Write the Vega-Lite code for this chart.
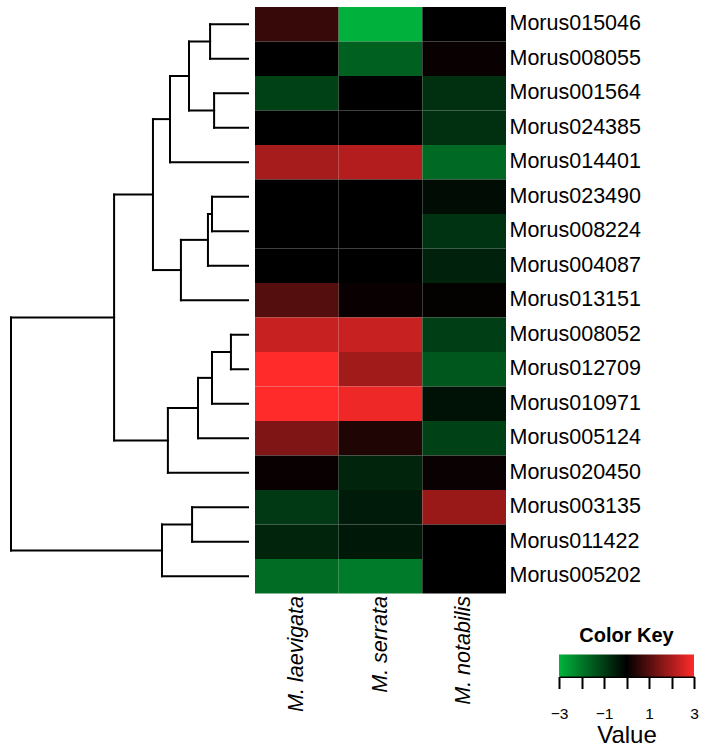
{
  "$schema": "https://vega.github.io/schema/vega-lite/v6.json",
  "padding": {"left": 9, "top": 7, "right": 0, "bottom": 0},
  "background": "white",
  "config": {"view": {"stroke": null}, "font": "Liberation Sans"},
  "datasets": {
    "segments": [
      {"h1":1.60,"h2":1.60,"y1":0,"y2":1},
      {"h1":1.43,"h2":1.43,"y1":2,"y2":3},
      {"h1":2.49,"h2":2.49,"y1":0.5,"y2":2.5},
      {"h1":3.29,"h2":3.29,"y1":1.5,"y2":4},
      {"h1":1.52,"h2":1.52,"y1":5,"y2":6},
      {"h1":1.69,"h2":1.69,"y1":5.5,"y2":7},
      {"h1":2.83,"h2":2.83,"y1":6.25,"y2":8},
      {"h1":4.01,"h2":4.01,"y1":2.75,"y2":7.125},
      {"h1":0.72,"h2":0.72,"y1":9,"y2":10},
      {"h1":1.52,"h2":1.52,"y1":9.5,"y2":11},
      {"h1":2.11,"h2":2.11,"y1":10.25,"y2":12},
      {"h1":3.38,"h2":3.38,"y1":11.125,"y2":13},
      {"h1":5.65,"h2":5.65,"y1":4.9375,"y2":12.0625},
      {"h1":2.36,"h2":2.36,"y1":14,"y2":15},
      {"h1":3.63,"h2":3.63,"y1":14.5,"y2":16},
      {"h1":10,"h2":10,"y1":8.5,"y2":15.25},
      {"h1":1.60,"h2":0,"y1":0,"y2":0},
      {"h1":1.60,"h2":0,"y1":1,"y2":1},
      {"h1":1.43,"h2":0,"y1":2,"y2":2},
      {"h1":1.43,"h2":0,"y1":3,"y2":3},
      {"h1":2.49,"h2":1.60,"y1":0.5,"y2":0.5},
      {"h1":2.49,"h2":1.43,"y1":2.5,"y2":2.5},
      {"h1":3.29,"h2":2.49,"y1":1.5,"y2":1.5},
      {"h1":3.29,"h2":0,"y1":4,"y2":4},
      {"h1":1.52,"h2":0,"y1":5,"y2":5},
      {"h1":1.52,"h2":0,"y1":6,"y2":6},
      {"h1":1.69,"h2":1.52,"y1":5.5,"y2":5.5},
      {"h1":1.69,"h2":0,"y1":7,"y2":7},
      {"h1":2.83,"h2":1.69,"y1":6.25,"y2":6.25},
      {"h1":2.83,"h2":0,"y1":8,"y2":8},
      {"h1":4.01,"h2":3.29,"y1":2.75,"y2":2.75},
      {"h1":4.01,"h2":2.83,"y1":7.125,"y2":7.125},
      {"h1":0.72,"h2":0,"y1":9,"y2":9},
      {"h1":0.72,"h2":0,"y1":10,"y2":10},
      {"h1":1.52,"h2":0.72,"y1":9.5,"y2":9.5},
      {"h1":1.52,"h2":0,"y1":11,"y2":11},
      {"h1":2.11,"h2":1.52,"y1":10.25,"y2":10.25},
      {"h1":2.11,"h2":0,"y1":12,"y2":12},
      {"h1":3.38,"h2":2.11,"y1":11.125,"y2":11.125},
      {"h1":3.38,"h2":0,"y1":13,"y2":13},
      {"h1":5.65,"h2":4.01,"y1":4.9375,"y2":4.9375},
      {"h1":5.65,"h2":3.38,"y1":12.0625,"y2":12.0625},
      {"h1":2.36,"h2":0,"y1":14,"y2":14},
      {"h1":2.36,"h2":0,"y1":15,"y2":15},
      {"h1":3.63,"h2":2.36,"y1":14.5,"y2":14.5},
      {"h1":3.63,"h2":0,"y1":16,"y2":16},
      {"h1":10,"h2":5.65,"y1":8.5,"y2":8.5},
      {"h1":10,"h2":3.63,"y1":15.25,"y2":15.25}
    ],
    "cells": [
      {"gene":"Morus015046","species":"M. laevigata","value":0.65},
      {"gene":"Morus015046","species":"M. serrata","value":-2.95},
      {"gene":"Morus015046","species":"M. notabilis","value":0.0},
      {"gene":"Morus008055","species":"M. laevigata","value":0.0},
      {"gene":"Morus008055","species":"M. serrata","value":-1.6},
      {"gene":"Morus008055","species":"M. notabilis","value":0.1},
      {"gene":"Morus001564","species":"M. laevigata","value":-1.1},
      {"gene":"Morus001564","species":"M. serrata","value":0.0},
      {"gene":"Morus001564","species":"M. notabilis","value":-0.8},
      {"gene":"Morus024385","species":"M. laevigata","value":0.0},
      {"gene":"Morus024385","species":"M. serrata","value":0.0},
      {"gene":"Morus024385","species":"M. notabilis","value":-0.8},
      {"gene":"Morus014401","species":"M. laevigata","value":1.95},
      {"gene":"Morus014401","species":"M. serrata","value":2.1},
      {"gene":"Morus014401","species":"M. notabilis","value":-1.75},
      {"gene":"Morus023490","species":"M. laevigata","value":0.0},
      {"gene":"Morus023490","species":"M. serrata","value":0.0},
      {"gene":"Morus023490","species":"M. notabilis","value":-0.2},
      {"gene":"Morus008224","species":"M. laevigata","value":0.0},
      {"gene":"Morus008224","species":"M. serrata","value":0.0},
      {"gene":"Morus008224","species":"M. notabilis","value":-0.85},
      {"gene":"Morus004087","species":"M. laevigata","value":0.0},
      {"gene":"Morus004087","species":"M. serrata","value":0.0},
      {"gene":"Morus004087","species":"M. notabilis","value":-0.55},
      {"gene":"Morus013151","species":"M. laevigata","value":1.0},
      {"gene":"Morus013151","species":"M. serrata","value":0.1},
      {"gene":"Morus013151","species":"M. notabilis","value":0.05},
      {"gene":"Morus008052","species":"M. laevigata","value":2.35},
      {"gene":"Morus008052","species":"M. serrata","value":2.35},
      {"gene":"Morus008052","species":"M. notabilis","value":-1.05},
      {"gene":"Morus012709","species":"M. laevigata","value":3.0},
      {"gene":"Morus012709","species":"M. serrata","value":1.9},
      {"gene":"Morus012709","species":"M. notabilis","value":-1.45},
      {"gene":"Morus010971","species":"M. laevigata","value":3.0},
      {"gene":"Morus010971","species":"M. serrata","value":2.8},
      {"gene":"Morus010971","species":"M. notabilis","value":-0.3},
      {"gene":"Morus005124","species":"M. laevigata","value":1.5},
      {"gene":"Morus005124","species":"M. serrata","value":0.38},
      {"gene":"Morus005124","species":"M. notabilis","value":-1.1},
      {"gene":"Morus020450","species":"M. laevigata","value":0.1},
      {"gene":"Morus020450","species":"M. serrata","value":-0.6},
      {"gene":"Morus020450","species":"M. notabilis","value":0.12},
      {"gene":"Morus003135","species":"M. laevigata","value":-0.95},
      {"gene":"Morus003135","species":"M. serrata","value":-0.45},
      {"gene":"Morus003135","species":"M. notabilis","value":1.8},
      {"gene":"Morus011422","species":"M. laevigata","value":-0.6},
      {"gene":"Morus011422","species":"M. serrata","value":-0.4},
      {"gene":"Morus011422","species":"M. notabilis","value":0.0},
      {"gene":"Morus005202","species":"M. laevigata","value":-1.8},
      {"gene":"Morus005202","species":"M. serrata","value":-2.05},
      {"gene":"Morus005202","species":"M. notabilis","value":0.0}
    ]
  },
  "bounds": "flush",
  "columns": 3,
  "spacing": {"row": 60.5, "column": 7},
  "concat": [
    {
      "width": 237,
      "height": 586.5,
      "data": {"name": "segments"},
      "mark": {"type": "rule", "strokeWidth": 2, "color": "black", "strokeCap": "square"},
      "encoding": {
        "x": {"field": "h1", "type": "quantitative", "scale": {"domain": [0, 10], "reverse": true, "nice": false, "zero": false}, "axis": null},
        "x2": {"field": "h2"},
        "y": {"field": "y1", "type": "quantitative", "scale": {"domain": [-0.5, 16.5], "reverse": true, "nice": false, "zero": false}, "axis": null},
        "y2": {"field": "y2"}
      }
    },
    {
      "width": 251,
      "height": 586.5,
      "data": {"name": "cells"},
      "mark": {"type": "rect"},
      "encoding": {
        "x": {"field": "species", "type": "nominal", "sort": null, "scale": {"paddingInner": 0, "paddingOuter": 0},
          "axis": {"title": null, "orient": "bottom", "labelAngle": -90, "labelFontStyle": "italic", "labelFontSize": 21.5, "ticks": false, "domain": false, "labelPadding": 2, "labelColor": "black", "labelOverlap": false, "labelFont": "Liberation Sans"}},
        "y": {"field": "gene", "type": "nominal", "sort": null, "scale": {"paddingInner": 0, "paddingOuter": 0},
          "axis": {"title": null, "orient": "right", "labelFontSize": 21.5, "ticks": false, "domain": false, "labelPadding": 3, "labelColor": "black", "labelOverlap": false, "labelFont": "Liberation Sans"}},
        "color": {"field": "value", "type": "quantitative", "scale": {"domain": [-3, 0, 3], "range": ["#00b43c", "#000000", "#ff2a2a"], "interpolate": "rgb"}, "legend": null}
      }
    },
    {
      "width": 135,
      "height": 10,
      "data": {"values": []},
      "mark": "point"
    },
    {
      "width": 237,
      "height": 22,
      "data": {"values": []},
      "mark": "point"
    },
    {
      "width": 297,
      "height": 22,
      "data": {"values": []},
      "mark": "point"
    },
    {
      "width": 135,
      "height": 22,
      "data": {"values": [{"lo": -3, "hi": 3}]},
      "title": {"text": "Color Key", "fontSize": 20, "fontWeight": "bold", "anchor": "middle", "offset": 9, "color": "black", "font": "Liberation Sans"},
      "mark": {"type": "rect", "fill": {"gradient": "linear", "x1": 0, "y1": 0, "x2": 1, "y2": 0, "stops": [{"offset": 0, "color": "#00b43c"}, {"offset": 0.5, "color": "#000000"}, {"offset": 1, "color": "#ff2a2a"}]}},
      "encoding": {
        "x": {"field": "lo", "type": "quantitative", "scale": {"domain": [-3, 3], "nice": false, "zero": false},
          "axis": {"values": [-3, -2, -1, 0, 1, 2, 3], "labelExpr": "datum.value % 2 !== 0 ? datum.label : ''", "tickSize": 12, "tickWidth": 2, "tickColor": "black", "domainColor": "black", "domainWidth": 2, "labelFontSize": 15.5, "labelPadding": 18, "labelColor": "black", "labelFlush": false, "labelFont": "Liberation Sans", "title": "Value", "titleFontSize": 24, "titleFontWeight": "normal", "titlePadding": 1, "titleColor": "black", "titleFont": "Liberation Sans", "grid": false}},
        "x2": {"field": "hi"}
      }
    }
  ]
}
